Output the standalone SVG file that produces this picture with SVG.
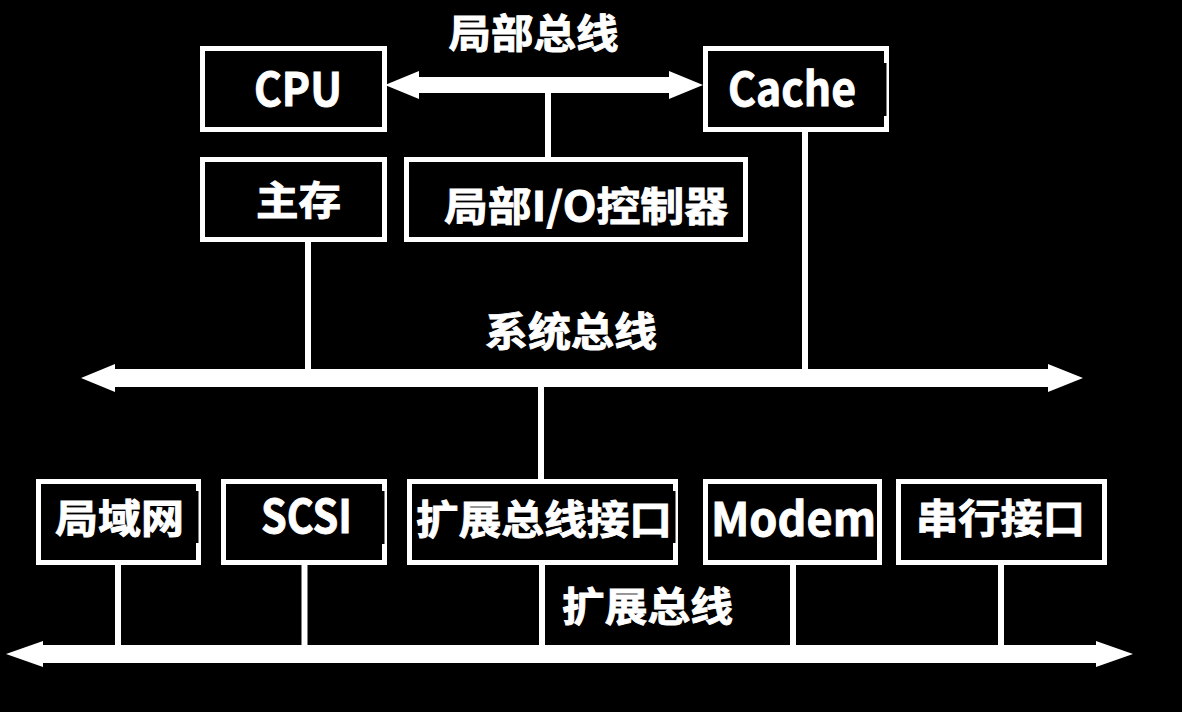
<svg xmlns="http://www.w3.org/2000/svg" width="1182" height="712" viewBox="0 0 1182 712">
<style>
.box{fill:#000;stroke:#fff;stroke-width:5}
.t{fill:#fff;stroke:#fff;stroke-width:0.9;font-family:"Noto Sans CJK SC","Noto Sans",sans-serif;font-weight:700;font-size:40px;text-anchor:middle;dominant-baseline:central}
.lat{font-size:46px}
.bus{fill:#fff}
.v{stroke:#fff;stroke-width:6}
.tab{fill:#000}
</style>
<rect width="1182" height="712" fill="#000"/>
<g id="connectors">
<path class="bus" d="M385,85 L419,71 L419,77 L669,77 L669,71 L703,85 L669,99 L669,93 L419,93 L419,99 Z"/>
<path class="bus" d="M81,378 L115,364 L115,369 L1048,369 L1048,364 L1083,378 L1048,392 L1048,387 L115,387 L115,392 Z"/>
<path class="bus" d="M6,654 L43,641 L43,645 L1096,645 L1096,641 L1133,654 L1096,667 L1096,663 L43,663 L43,667 Z"/>
<line class="v" x1="548" y1="92" x2="548" y2="158"/>
<line class="v" x1="308" y1="241" x2="308" y2="370"/>
<line class="v" x1="805" y1="131" x2="805" y2="370"/>
<line class="v" x1="541" y1="386" x2="541" y2="480"/>
<line class="v" x1="118" y1="564" x2="118" y2="646"/>
<line class="v" x1="304.5" y1="564" x2="304.5" y2="646"/>
<line class="v" x1="542" y1="564" x2="542" y2="646"/>
<line class="v" x1="793" y1="564" x2="793" y2="646"/>
<line class="v" x1="1001" y1="564" x2="1001" y2="646"/>
</g>
<g id="label-local-bus"><text class="t" x="533.5" y="31" textLength="170" lengthAdjust="spacingAndGlyphs">局部总线</text></g>
<g id="label-system-bus"><text class="t" x="571" y="329" textLength="172" lengthAdjust="spacingAndGlyphs">系统总线</text></g>
<g id="label-expansion-bus"><text class="t" x="647.5" y="604" textLength="171" lengthAdjust="spacingAndGlyphs">扩展总线</text></g>
<g id="cpu">
<rect class="box" x="202.5" y="48.5" width="182" height="81"/>
<text class="t lat" x="298" y="85.5" textLength="88" lengthAdjust="spacingAndGlyphs">CPU</text>
</g>
<g id="cache">
<rect class="box" x="705.5" y="48.5" width="181" height="81"/>
<rect class="tab" x="884" y="63" width="2.5" height="53"/>
<text class="t lat" x="792" y="85.5" textLength="128" lengthAdjust="spacingAndGlyphs">Cache</text>
</g>
<g id="main-memory">
<rect class="box" x="202.5" y="159.5" width="182" height="80"/>
<text class="t" x="298.5" y="197.5" textLength="85" lengthAdjust="spacingAndGlyphs">主存</text>
</g>
<g id="local-io">
<rect class="box" x="406.5" y="159.5" width="339" height="80"/>
<text class="t" x="586" y="204" textLength="284" lengthAdjust="spacingAndGlyphs">局部I/O控制器</text>
</g>
<g id="lan">
<rect class="box" x="38.5" y="481.5" width="160" height="81"/>
<rect class="tab" x="196" y="491" width="2.5" height="52"/>
<text class="t" x="119.5" y="516" textLength="129" lengthAdjust="spacingAndGlyphs">局域网</text>
</g>
<g id="scsi">
<rect class="box" x="223.5" y="481.5" width="161" height="81"/>
<rect class="tab" x="382" y="491" width="2.5" height="53"/>
<text class="t lat" x="306.5" y="513" textLength="91" lengthAdjust="spacingAndGlyphs">SCSI</text>
</g>
<g id="expansion-interface">
<rect class="box" x="409.5" y="481.5" width="266" height="81"/>
<rect class="tab" x="673" y="491" width="2.5" height="52"/>
<text class="t" x="544" y="517" textLength="256" lengthAdjust="spacingAndGlyphs">扩展总线接口</text>
</g>
<g id="modem">
<rect class="box" x="705.5" y="481.5" width="174" height="81"/>
<text class="t lat" x="793.5" y="516" textLength="165" lengthAdjust="spacingAndGlyphs">Modem</text>
</g>
<g id="serial">
<rect class="box" x="898.5" y="481.5" width="206" height="81"/>
<text class="t" x="1000.5" y="515.5" textLength="169" lengthAdjust="spacingAndGlyphs">串行接口</text>
</g>
</svg>
